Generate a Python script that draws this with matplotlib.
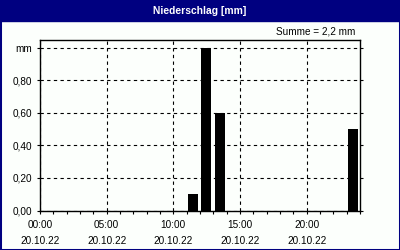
import matplotlib
matplotlib.use("Agg")
import matplotlib.pyplot as plt
from matplotlib.patches import Rectangle
from matplotlib.ticker import MultipleLocator, FixedLocator

# Data
hours = [11, 12, 13, 23]
precip_mm = [0.1, 1.0, 0.6, 0.5]
x_tick_hours = [0, 5, 10, 15, 20]
x_tick_labels = ["00:00\n20.10.22", "05:00\n20.10.22", "10:00\n20.10.22",
                 "15:00\n20.10.22", "20:00\n20.10.22"]
y_ticks = [0.0, 0.2, 0.4, 0.6, 0.8, 1.0]
y_tick_labels = ["0,00", "0,20", "0,40", "0,60", "0,80", "mm"]
title = "Niederschlag [mm]"
summary = "Summe = 2,2 mm"

navy = "#000080"
bg = "#FCFFFC"

plt.rcParams['font.family'] = ['Liberation Sans', 'DejaVu Sans']
fig = plt.figure(figsize=(4, 2.5), dpi=100)
fig.patch.set_facecolor(bg)

W, H = 400, 250
fs = 7.2
# border and title bar
fig.patches.append(Rectangle((0, 0), 1, 1, transform=fig.transFigure,
                             fill=False, edgecolor=navy, linewidth=2.2, zorder=0))
fig.patches.append(Rectangle((0, 1 - 20.5 / H), 1, 20.5 / H, transform=fig.transFigure,
                             facecolor=navy, edgecolor=navy, zorder=1))
fig.text(0.5, 1 - 10.5 / H, title, color="white", fontweight="bold",
         ha="center", va="center", fontsize=7.4)
fig.text(355 / W, 1 - 31 / H, summary, color="black", ha="right", va="center",
         fontsize=fs)

left, right, top, bottom = 40, 360, 40, 210.5
ax = fig.add_axes([left / W, 1 - bottom / H, (right - left) / W, (bottom - top) / H])
ax.set_facecolor(bg)

ax.bar([h + 0.1 for h in hours], precip_mm, width=0.75, align="edge",
       color="black", zorder=3)

ax.set_xlim(0, 24)
ax.set_ylim(0, 1.047)
ax.xaxis.set_major_locator(FixedLocator(x_tick_hours))
ax.set_xticklabels(x_tick_labels, fontsize=fs, linespacing=1.75)
ax.xaxis.set_minor_locator(MultipleLocator(1))
ax.set_yticks(y_ticks)
ax.set_yticklabels(y_tick_labels, fontsize=fs)

ax.tick_params(axis="x", which="both", direction="out", length=2.5, width=0.8,
               pad=4, colors="black")
ax.tick_params(axis="y", which="both", direction="out", length=2.5, width=0.8,
               pad=3, right=True)

for s in ax.spines.values():
    s.set_linewidth(1.0)
    s.set_color("black")

ax.grid(True, which="major", color="black", linestyle=(0, (3, 3)), linewidth=0.8, zorder=1)

fig.savefig("out.png", dpi=100, facecolor=bg)
